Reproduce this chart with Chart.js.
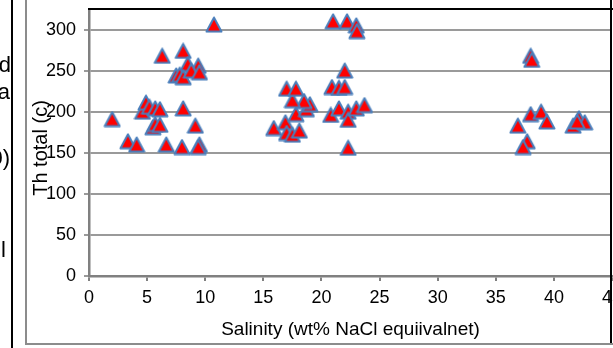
<!DOCTYPE html>
<html>
<head>
<meta charset="utf-8">
<script src="https://cdn.jsdelivr.net/npm/chart.js@4/dist/chart.umd.min.js"></script>
<style>
  html, body { margin: 0; padding: 0; background: #fff; overflow: hidden; width: 613px; height: 348px; }
  #wrap { position: relative; width: 613px; height: 348px; overflow: hidden; }
  #c { position: absolute; left: 0; top: 0; }
  .rule { position: absolute; }
  #margin { position: absolute; left: 0; top: 0; width: 11px; height: 348px; overflow: hidden;
            font-family: "Liberation Sans", Arial, sans-serif; font-size: 22px; line-height: 22px; color: #000; }
  #margin span { position: absolute; white-space: nowrap; }
</style>
</head>
<body>
<div id="wrap">
  <canvas id="c" width="660" height="348"></canvas>
  <div id="margin">
    <span style="top:54px; right:0">d</span>
    <span style="top:81px; right:1px">a</span>
    <span style="top:147px; right:1px">0)</span>
    <span style="top:239px; left:1px">l</span>
  </div>
  <div class="rule" style="left:11px; top:0; width:2px; height:348px; background:#000"></div>
  <div class="rule" style="left:25px; top:0; width:2px; height:345px; background:#8c8c8c"></div>
  <div class="rule" style="left:25px; top:343px; width:600px; height:2px; background:#8c8c8c"></div>
  <div class="rule" style="left:610px; top:0; width:2px; height:343px; background:#000"></div>
</div>
<script>
// Fluid inclusion measurements: salinity vs. total homogenisation temperature
const salinity = [
  2.0, 3.35, 4.1, 4.6, 4.9, 5.2, 5.7, 6.1, 5.5, 5.7, 6.1, 6.65, 8.0, 8.1, 9.15, 9.5, 9.4,
  6.3, 8.1, 9.4, 8.5, 7.5, 7.8, 8.1, 8.8, 9.5, 10.75,
  15.9, 16.9, 17.0, 17.5, 18.1, 17.8, 18.7, 19.0, 18.5, 17.5, 17.0, 17.8,
  20.8, 21.5, 22.3, 22.3, 23.0, 23.7, 22.3, 20.9, 21.5, 22.0, 22.0, 21.0, 22.2, 23.0, 23.05,
  38.0, 38.1, 36.9, 38.0, 38.9, 39.4, 37.7, 37.35, 41.65, 42.15, 42.65, 42.0
];
const thTotal = [
  191, 164, 160, 200, 211, 206, 204, 203, 181, 185, 184, 160, 157, 204, 183, 160, 157,
  268, 274, 256, 258, 244, 245, 242, 250, 248, 306,
  180, 187, 174, 172, 177, 197, 203, 209, 213, 214, 228, 228,
  196, 204, 200, 190, 204, 208, 156, 230, 229, 230, 250, 310, 310, 305, 298,
  268, 263, 183, 197, 200, 188, 164, 157, 183, 192, 187, 188
];
const xTickValues = [0, 5, 10, 15, 20, 25, 30, 35, 40, 45];
const yTickValues = [0, 50, 100, 150, 200, 250, 300];
const xTitle = 'Salinity (wt% NaCl equiivalnet)';
const yTitle = 'Th total (c)';

const FONT = '"Liberation Sans", Arial, sans-serif';

// Triangle marker centred on its bounding box
function triangleMarker() {
  const c = document.createElement('canvas');
  c.width = 18; c.height = 17;
  const g = c.getContext('2d');
  g.beginPath();
  g.moveTo(9, 1.5);
  g.lineTo(16.5, 15.5);
  g.lineTo(1.5, 15.5);
  g.closePath();
  g.fillStyle = '#ff0000';
  g.fill();
  g.lineWidth = 2;
  g.lineJoin = 'round';
  g.strokeStyle = '#4a7ebb';
  g.stroke();
  return c;
}

const points = salinity.map((s, i) => ({ x: s, y: thTotal[i] }));

// Axis titles and the black top edge of the plot area
const frame = {
  id: 'frame',
  afterDraw(chart) {
    const { ctx, chartArea: a } = chart;
    ctx.save();
    ctx.strokeStyle = '#000';
    ctx.lineWidth = 2;
    ctx.beginPath();
    ctx.moveTo(a.left - 1, a.top);
    ctx.lineTo(a.right + 48, a.top);
    ctx.stroke();

    ctx.fillStyle = '#000';
    ctx.font = '19px ' + FONT;
    ctx.textAlign = 'center';
    ctx.textBaseline = 'alphabetic';
    ctx.fillText(xTitle, (a.left + a.right) / 2, a.bottom + 59);

    ctx.font = '20px ' + FONT;
    ctx.translate(a.left - 48, a.bottom - 128);
    ctx.rotate(-Math.PI / 2);
    ctx.textBaseline = 'middle';
    ctx.fillText(yTitle, 0, 0);
    ctx.restore();
  }
};

new Chart(document.getElementById('c'), {
  type: 'scatter',
  data: {
    datasets: [{
      data: points,
      pointStyle: triangleMarker(),
      pointRadius: 8,
      pointHoverRadius: 8
    }]
  },
  options: {
    responsive: false,
    devicePixelRatio: 1,
    animation: false,
    layout: { padding: { left: 0, top: 6, right: 48, bottom: 0 } },
    plugins: { legend: { display: false }, tooltip: { enabled: false } },
    scales: {
      x: {
        type: 'linear',
        position: 'bottom',
        min: 0,
        max: 45,
        afterFit(s) { s.height = 72; s.paddingLeft = 0; s.paddingRight = 0; },
        afterBuildTicks(s) { s.ticks = xTickValues.map(v => ({ value: v })); },
        grid: { drawOnChartArea: false, drawTicks: true, tickLength: 5, color: '#808080', lineWidth: 2 },
        border: { display: true, color: '#808080', width: 2.5 },
        ticks: { color: '#000', font: { size: 18, family: FONT }, padding: 6, maxRotation: 0, autoSkip: false }
      },
      y: {
        type: 'linear',
        min: 0,
        max: 325,
        afterFit(s) { s.width = 89; s.paddingTop = 0; s.paddingBottom = 0; },
        afterBuildTicks(s) { s.ticks = yTickValues.map(v => ({ value: v })); },
        grid: { color: '#9a9a9a', lineWidth: 2, drawTicks: true, tickLength: 5 },
        border: { display: true, color: '#808080', width: 2.5 },
        ticks: { color: '#000', font: { size: 18, family: FONT }, padding: 8, autoSkip: false }
      }
    }
  },
  plugins: [frame]
});
</script>
</body>
</html>
